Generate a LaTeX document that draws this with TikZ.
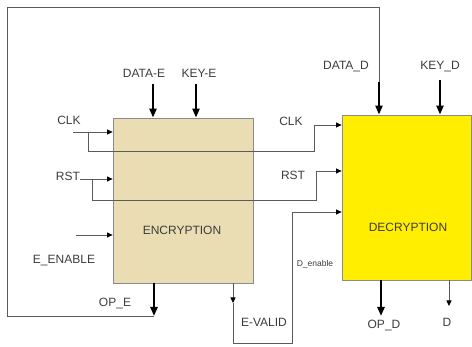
\documentclass[tikz,border=0pt]{standalone}
\usepackage{fontspec}
\setmainfont{Liberation Sans}
\usetikzlibrary{arrows.meta}
\definecolor{enccol}{RGB}{234,221,180}
\definecolor{deccol}{RGB}{255,238,0}
\definecolor{linecol}{RGB}{90,90,90}
\definecolor{txtcol}{RGB}{60,60,60}
\tikzset{
  blockbox/.style={draw=linecol!70, line width=0.8pt, inner sep=0pt},
  lbl/.style={text=txtcol, font=\fontsize{12}{14}\selectfont, inner sep=0pt},
  smalllbl/.style={text=txtcol, font=\fontsize{8.5}{10}\selectfont, inner sep=0pt},
  wire/.style={draw=linecol, line width=0.8pt},
  thinarrow/.style={wire, -{Triangle[length=5.5pt,width=5pt,color=black]}},
  busarrow/.style={draw=black, line width=2.6pt, -{Triangle[length=9pt,width=7pt]}},
}
\begin{document}
\begin{tikzpicture}[x=1pt,y=-1pt]
\useasboundingbox (0,0) rectangle (472,347);
% blocks
\node[blockbox, fill=enccol, minimum width=140pt, minimum height=165pt] (enc) at (183,200.5) {};
\node[blockbox, fill=deccol, minimum width=129pt, minimum height=165pt] (dec) at (406.5,197.5) {};
\node[lbl] (enctxt) at (182,230) {ENCRYPTION};
\node[lbl] (dectxt) at (408,227) {DECRYPTION};
% labels
\node[lbl] (ldatae) at (144,73) {DATA-E};
\node[lbl] (lkeye) at (199,73) {KEY-E};
\node[lbl] (lclk) at (69,120) {CLK};
\node[lbl] (lrst) at (68,176) {RST};
\node[lbl] (lenable) at (64,261) {E\_ENABLE};
\node[lbl] (lope) at (115,304) {OP\_E};
\node[lbl] (ldatad) at (346,67) {DATA\_D};
\node[lbl] (lkeyd) at (440,67) {KEY\_D};
\node[lbl] (lclkd) at (291,121) {CLK};
\node[lbl] (lrstd) at (293,175) {RST};
\node[smalllbl] (lden) at (315,264) {D\_enable};
\node[lbl] (lev) at (264,322) {E-VALID};
\node[lbl] (lopd) at (384,326) {OP\_D};
\node[lbl] (ld) at (447,322) {D};
% coordinates
\coordinate (de0) at (153,84);
\coordinate (ke0) at (196,84);
\coordinate (kd0) at (440,80);
\coordinate (dd0) at (379,82);
\coordinate (clk0) at (73,132);
\coordinate (clkb) at (88,132);
\coordinate (clkb2) at (88,151);
\coordinate (clkb3) at (314,151);
\coordinate (clkb4) at (314,125);
\coordinate (rst0) at (80,179);
\coordinate (rstb) at (92,179);
\coordinate (rstb2) at (92,200);
\coordinate (rstb3) at (316,200);
\coordinate (rstb4) at (316,171);
\coordinate (en0) at (76,235);
\coordinate (opes) at (154,283);
\coordinate (opee) at (154,316);
\coordinate (fb1) at (7,316);
\coordinate (fb2) at (7,7);
\coordinate (fb3) at (379,7);
\coordinate (evs) at (233,283);
\coordinate (eva) at (233,303);
\coordinate (ev1) at (233,343);
\coordinate (ev2) at (292,343);
\coordinate (ev3) at (292,212);
\coordinate (opds) at (381,280);
\coordinate (opde) at (381,316);
\coordinate (ds) at (449,280);
\coordinate (de) at (449,306);
% inputs to encryption
\draw[busarrow] (de0) -- (de0 |- enc.north);
\draw[busarrow] (ke0) -- (ke0 |- enc.north);
\draw[thinarrow] (clk0) -- (clk0 -| enc.west);
\draw[thinarrow] (rst0) -- (rst0 -| enc.west);
\draw[thinarrow] (en0) -- (en0 -| enc.west);
% clk / rst branches to decryption
\draw[thinarrow] (clkb) -- (clkb2) -- (clkb3) -- (clkb4) -- (clkb4 -| dec.west);
\draw[thinarrow] (rstb) -- (rstb2) -- (rstb3) -- (rstb4) -- (rstb4 -| dec.west);
% OP_E feedback to DATA_D
\draw[busarrow] (opes) -- (opee);
\draw[wire] (opee) -- (fb1) -- (fb2) -- (fb3) -- (dd0);
\draw[busarrow] (dd0) -- (dd0 |- dec.north);
\draw[busarrow] (kd0) -- (kd0 |- dec.north);
% E-VALID to D_enable
\draw[thinarrow] (evs) -- (eva);
\draw[thinarrow] (eva) -- (ev1) -- (ev2) -- (ev3) -- (ev3 -| dec.west);
% decryption outputs
\draw[busarrow] (opds) -- (opde);
\draw[thinarrow] (ds) -- (de);
\end{tikzpicture}
\end{document}
